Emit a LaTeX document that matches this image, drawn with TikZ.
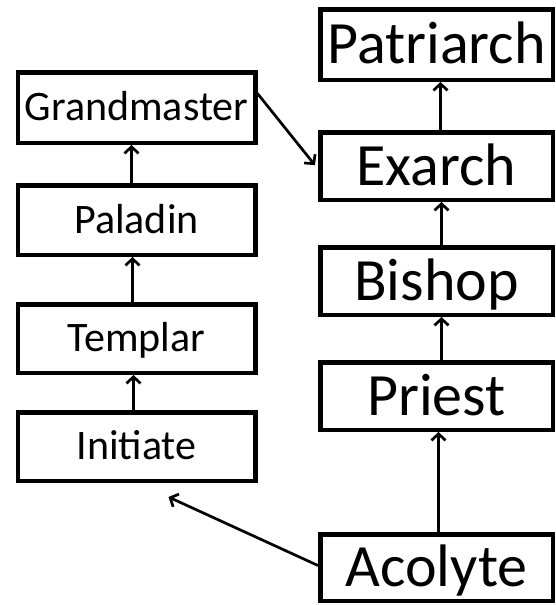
\documentclass[tikz,border=0pt]{standalone}
\usepackage{fontspec}
\setmainfont{Carlito}
\usetikzlibrary{arrows.meta}
\tikzset{
  rank/.style={draw=black, line width=4.5pt, fill=white, inner sep=0pt, anchor=center, text depth=0pt},
  bigrank/.style={rank, font=\fontsize{60}{60}\selectfont, text height=38pt, minimum width=232.5pt},
  smallrank/.style={rank, font=\fontsize{42}{42}\selectfont, text height=26.5pt, minimum width=237.5pt},
  arr/.style={line width=2.7pt, -{Straight Barb[length=6.5pt, width=14pt, line width=2.7pt]}}
}
\begin{document}
\begin{tikzpicture}[x=1pt, y=-1pt]
\useasboundingbox (0,0) rectangle (556,605);
% right column
\node[bigrank, minimum height=70.5pt] (pat) at (436.5,44.5) {Patriarch};
\node[bigrank, minimum height=67.5pt] (exa) at (436.5,166) {Exarch};
\node[bigrank, minimum height=67.5pt] (bis) at (436.5,281) {Bishop};
\node[bigrank, minimum height=67.5pt] (pri) at (436.5,396) {Priest};
\node[bigrank, minimum height=66.5pt] (aco) at (436.5,567.5) {Acolyte};
% left column
\node[smallrank, minimum height=70.5pt] (gm) at (136.5,107.5) {Grandmaster};
\node[smallrank, minimum height=69.5pt] (pal) at (136.5,220) {Paladin};
\node[smallrank, minimum height=68.5pt] (tem) at (136.5,338.5) {Templar};
\node[smallrank, minimum height=68.5pt] (ini) at (136.5,446.5) {Initiate};
\coordinate (initarget) at ([xshift=32pt, yshift=-14pt]ini.south);
% vertical connectors
\draw[arr] ([xshift=4pt]exa.north) -- ([xshift=4pt]pat.south);
\draw[arr] ([xshift=5pt]bis.north) -- ([xshift=5pt]exa.south);
\draw[arr] ([xshift=5pt]pri.north) -- ([xshift=5pt]bis.south);
\draw[arr] ([xshift=2pt]aco.north) -- ([xshift=2pt]pri.south);
\draw[arr] ([xshift=-5pt]pal.north) -- ([xshift=-5pt]gm.south);
\draw[arr] ([xshift=-4pt]tem.north) -- ([xshift=-4pt]pal.south);
\draw[arr] ([xshift=-3pt]ini.north) -- ([xshift=-3pt]tem.south);
% cross connectors
\draw[arr, shorten >=5pt] ([yshift=14pt]gm.east) -- ([yshift=-3pt]exa.west);
\draw[arr] ([yshift=2pt]aco.west) -- (initarget);
\end{tikzpicture}
\end{document}
